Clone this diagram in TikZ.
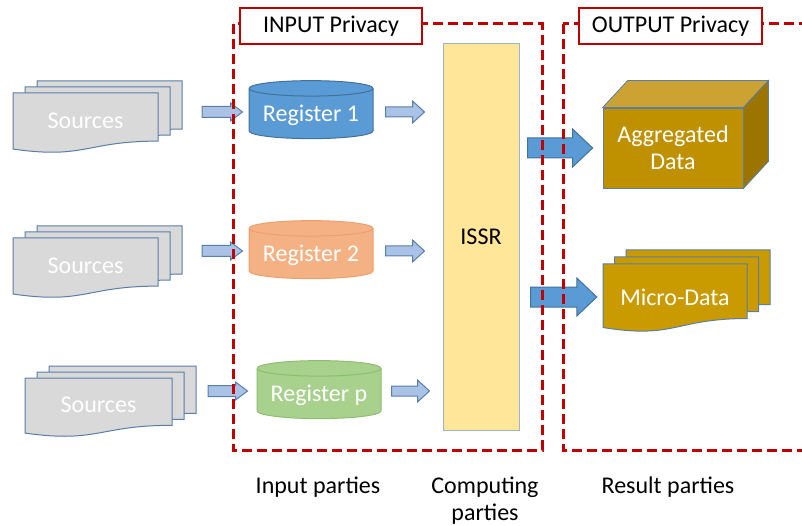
\documentclass[tikz,border=0pt]{standalone}
\usepackage{fontspec}
\setmainfont{Carlito}
\usetikzlibrary{calc,shapes.geometric}

\definecolor{privred}{RGB}{192,0,0}
\definecolor{srcfill}{RGB}{217,217,217}
\definecolor{steel}{RGB}{88,126,170}
\definecolor{lightarrow}{RGB}{170,194,230}
\definecolor{regblue}{RGB}{91,155,213}
\definecolor{regblueline}{RGB}{65,113,156}
\definecolor{regorange}{RGB}{244,177,131}
\definecolor{regorangeline}{RGB}{236,160,110}
\definecolor{reggreen}{RGB}{169,209,142}
\definecolor{reggreenline}{RGB}{140,190,110}
\definecolor{issrfill}{RGB}{255,230,153}
\definecolor{issrline}{RGB}{157,179,207}
\definecolor{goldfront}{RGB}{191,144,0}
\definecolor{goldtop}{RGB}{204,162,50}
\definecolor{goldside}{RGB}{155,117,0}
\definecolor{golddoc}{RGB}{201,155,0}

% document sheet with wavy bottom, top left corner at (#1,#2)
\newcommand{\docpage}[5]{%
  \draw[#5] (#1,#2) -- ++(#3,0) -- ++(0,{0.802*#4})
    .. controls ({#1+0.5*#3},{#2+0.802*#4}) and ({#1+0.5*#3},{#2+1.1075*#4})
    .. (#1,{#2+0.934*#4}) -- cycle;}
% three sheets, back to front
\newcommand{\docstack}[7]{%
  \docpage{#1+2*#5}{#2+2*#6}{#3}{#4}{#7}
  \docpage{#1+#5}{#2+#6}{#3}{#4}{#7}
  \docpage{#1}{#2}{#3}{#4}{#7}}
% block arrow: x from #2, x and y from #3
\newcommand{\blockarrow}[6]{%
  \draw[#1] let \p1=(#2), \p2=(#3) in
    (\x1,\y2+#4) -- (\x2-#6,\y2+#4) -- (\x2-#6,\y2+#5) -- (\x2,\y2)
    -- (\x2-#6,\y2-#5) -- (\x2-#6,\y2-#4) -- (\x1,\y2-#4) -- cycle;}

\begin{document}
\begin{tikzpicture}[x=1pt,y=-1pt,font=\fontsize{24}{27}\selectfont]
    % Define styles
    \tikzset{
        sheet/.style={fill=srcfill, draw=steel, line width=1pt},
        goldsheet/.style={fill=golddoc, draw=steel, line width=1pt},
        srctext/.style={text=white, minimum width=145},
        register/.style={cylinder, shape border rotate=90, aspect=0.15, draw, line width=1pt,
            minimum width=124, minimum height=58, text=white},
        smallarrow/.style={fill=lightarrow, draw=steel, line width=1pt},
        bigarrow/.style={fill=regblue, draw=regblueline, line width=1pt},
        issr/.style={rectangle, fill=issrfill, draw=issrline, line width=1pt,
            minimum width=76, minimum height=386},
        cubefront/.style={rectangle, fill=goldfront, draw=steel, line width=0.8pt,
            minimum width=140, minimum height=80, text=white, align=center},
        privacy/.style={draw=privred, line width=3pt, dash pattern=on 10pt off 5pt},
        privlabel/.style={rectangle, draw=privred, line width=2pt, fill=white,
            minimum height=36, inner sep=0pt}
    }
    \useasboundingbox (0,0) rectangle (802,526);

    % Sources
    \docstack{13}{93}{145}{60}{12}{-6}{sheet}
    \docstack{13}{238}{145}{60}{12}{-6}{sheet}
    \docstack{25}{378}{147}{59}{12}{-6}{sheet}
    \node[srctext] (src1) at (85.5,121) {Sources};
    \node[srctext] (src2) at (85.5,266) {Sources};
    \node[srctext] (src3) at (98.5,405) {Sources};

    % Registers
    \node[register, fill=regblue, draw=regblueline] (reg1) at (311,115) {Register 1};
    \node[register, fill=regorange, draw=regorangeline] (reg2) at (311,255) {Register 2};
    \node[register, fill=reggreen, draw=reggreenline] (regp) at (319,395) {Register p};

    % Computing
    \node[issr] (issr) at (481,237) {ISSR};

    % Aggregated data cube
    \node[cubefront] (agg) at (673,148) {Aggregated\\Data};
    \draw[fill=goldtop, draw=steel, line width=0.8pt] (agg.north west) -- ++(25,-27)
        -- ($(agg.north east)+(25,-27)$) -- (agg.north east) -- cycle;
    \draw[fill=goldside, draw=steel, line width=0.8pt] (agg.north east) -- ++(25,-27)
        -- ($(agg.south east)+(25,-27)$) -- (agg.south east) -- cycle;

    % Micro data
    \docstack{603}{264}{144}{68}{11.5}{-7}{goldsheet}
    \node[text=white, minimum width=144] (micro) at (675,297) {Micro-Data};

    % Arrows
    \blockarrow{smallarrow}{$(src1.east)+(44,0)$}{$(reg1.west)+(-6,-3)$}{5.5pt}{9pt}{12pt}
    \blockarrow{smallarrow}{$(src2.east)+(44,0)$}{$(reg2.west)+(-6,-4)$}{5.5pt}{9pt}{12pt}
    \blockarrow{smallarrow}{$(src3.east)+(37,0)$}{$(regp.west)+(-9,-4)$}{5.5pt}{9pt}{12pt}
    \blockarrow{smallarrow}{$(reg1.east)+(12,0)$}{$(issr.west |- reg1)+(-18,-3)$}{5pt}{11pt}{12pt}
    \blockarrow{smallarrow}{$(reg2.east)+(12,0)$}{$(issr.west |- reg2)+(-18,-4)$}{5pt}{11pt}{12pt}
    \blockarrow{smallarrow}{$(regp.east)+(10,0)$}{$(issr.west |- regp)+(-13,-4)$}{5pt}{11pt}{12pt}
    \blockarrow{bigarrow}{$(issr.east)+(8,0)$}{$(agg.west)+(-10,0)$}{10pt}{19pt}{20pt}
    \blockarrow{bigarrow}{$(issr.east)+(11,0)$}{$(micro.west)+(-6,0)$}{10pt}{19pt}{20pt}

    % Privacy boundaries
    \draw[privacy] (233,24) rectangle (542,450);
    \draw[privacy] (563,24) rectangle (815,450);
    \node[privlabel, minimum width=182] (inlabel) at (331,26) {INPUT Privacy};
    \node[privlabel, minimum width=183] (outlabel) at (670.5,26) {OUTPUT Privacy};

    % Parties
    \node (inparties) at (318,487) {Input parties};
    \node[align=center] (compparties) at (485,501) {Computing\\parties};
    \node (resparties) at (668,487) {Result parties};
\end{tikzpicture}
\end{document}
